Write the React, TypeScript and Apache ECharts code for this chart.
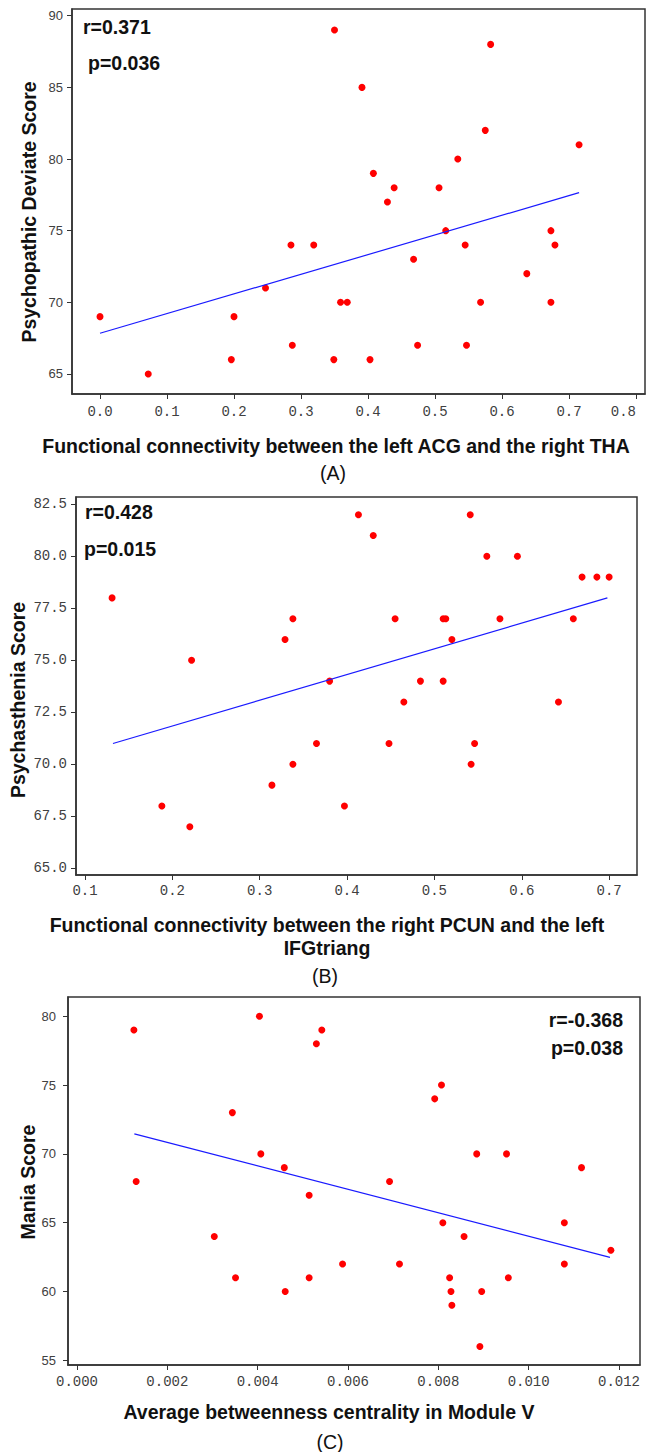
import React, { useEffect, useRef } from "react";
import * as echarts from "echarts";

// ---------- Panel A ----------
const xA = [0.0, 0.072, 0.196, 0.2, 0.247, 0.285, 0.287, 0.319, 0.349, 0.35, 0.359, 0.369, 0.391, 0.403, 0.408, 0.429, 0.439, 0.468, 0.474, 0.506, 0.516, 0.534, 0.545, 0.547, 0.568, 0.575, 0.583, 0.637, 0.673, 0.673, 0.679, 0.715];
const yA = [69, 65, 66, 69, 71, 74, 67, 74, 66, 89, 70, 70, 85, 66, 79, 77, 78, 73, 67, 78, 75, 80, 74, 67, 70, 82, 88, 72, 75, 70, 74, 81];
const fitAx = [0.0, 0.715];
const fitAy = [67.84, 77.65];
const ticksAx = [0, 0.1, 0.2, 0.3, 0.4, 0.5, 0.6, 0.7, 0.8];
const ticksAy = [65, 70, 75, 80, 85, 90];

// ---------- Panel B ----------
const xB = [0.131, 0.188, 0.22, 0.222, 0.314, 0.329, 0.338, 0.338, 0.365, 0.38, 0.397, 0.413, 0.43, 0.448, 0.455, 0.465, 0.484, 0.51, 0.513, 0.51, 0.52, 0.541, 0.542, 0.546, 0.56, 0.575, 0.595, 0.642, 0.659, 0.669, 0.686, 0.7];
const yB = [78, 68, 67, 75, 69, 76, 77, 70, 71, 74, 68, 82, 81, 71, 77, 73, 74, 77, 77, 74, 76, 82, 70, 71, 80, 77, 80, 73, 77, 79, 79, 79];
const fitBx = [0.132, 0.698];
const fitBy = [71.0, 78.0];
const ticksBx = [0.1, 0.2, 0.3, 0.4, 0.5, 0.6, 0.7];
const ticksBy = [65, 67.5, 70, 72.5, 75, 77.5, 80, 82.5];

// ---------- Panel C ----------
const xC = [0.00126, 0.00131, 0.00304, 0.00344, 0.00351, 0.00404, 0.00407, 0.00459, 0.00461, 0.00514, 0.00514, 0.0053, 0.00542, 0.00588, 0.00692, 0.00714, 0.00792, 0.00807, 0.0081, 0.00825, 0.00828, 0.0083, 0.00857, 0.00885, 0.00892, 0.00896, 0.00951, 0.00955, 0.01079, 0.01079, 0.01117, 0.01182];
const yC = [79, 68, 64, 73, 61, 80, 70, 69, 60, 67, 61, 78, 79, 62, 68, 62, 74, 75, 65, 61, 60, 59, 64, 70, 56, 60, 70, 61, 65, 62, 69, 63];
const fitCx = [0.00127, 0.0118];
const fitCy = [71.46, 62.48];
const ticksCx = [0, 0.002, 0.004, 0.006, 0.008, 0.01, 0.012];
const ticksCy = [55, 60, 65, 70, 75, 80];

const zip = (xs: number[], ys: number[]) => xs.map((x, i) => [x, ys[i]]);

const BOLD = 'bold 19.5px "Liberation Sans", Arial, sans-serif';
const NORMAL = '19.5px "Liberation Sans", Arial, sans-serif';

function xAxisCfg(gridIndex: number, min: number, max: number, ticks: number[], dec: number, margin: number, alignMax?: string) {
  return {
    type: "value",
    gridIndex,
    min,
    max,
    axisLine: { show: true, onZero: false, lineStyle: { color: "#333", width: 1.5 } },
    axisTick: { show: true, length: 5, customValues: ticks, lineStyle: { color: "#333", width: 1 } },
    axisLabel: {
      customValues: ticks,
      formatter: (v: number) => v.toFixed(dec),
      fontFamily: '"Liberation Mono", monospace',
      fontSize: 14,
      color: "#404040",
      margin,
      ...(alignMax ? { alignMaxLabel: alignMax } : {}),
    },
    splitLine: { show: false },
  };
}

function yAxisCfg(gridIndex: number, min: number, max: number, ticks: number[], dec: number, margin: number, mono: boolean) {
  return {
    type: "value",
    gridIndex,
    min,
    max,
    axisLine: { show: true, onZero: false, lineStyle: { color: "#333", width: 1.5 } },
    axisTick: { show: true, length: 5, customValues: ticks, lineStyle: { color: "#333", width: 1 } },
    axisLabel: {
      customValues: ticks,
      formatter: (v: number) => v.toFixed(dec),
      fontFamily: mono ? '"Liberation Mono", monospace' : '"Liberation Sans", Arial, sans-serif',
      fontSize: mono ? 14 : 13,
      color: "#404040",
      margin,
    },
    splitLine: { show: false },
  };
}

function txt(text: string, x: number, y: number, font: string, align: string, rotation = 0) {
  return {
    type: "text",
    x,
    y,
    rotation,
    style: {
      text,
      font,
      fill: "#111",
      align,
      verticalAlign: "middle",
      textAlign: align,
      textVerticalAlign: "middle",
    },
  };
}

function scatter(xi: number, data: number[][]) {
  return {
    type: "scatter",
    xAxisIndex: xi,
    yAxisIndex: xi,
    data,
    symbol: "circle",
    symbolSize: 7,
    itemStyle: { color: "#ff0000", opacity: 1 },
  };
}

function fit(xi: number, data: number[][]) {
  return {
    type: "line",
    xAxisIndex: xi,
    yAxisIndex: xi,
    data,
    showSymbol: false,
    symbol: "none",
    lineStyle: { color: "#1a1aff", width: 1.2 },
  };
}

export default function App() {
  const ref = useRef<HTMLDivElement>(null);

  useEffect(() => {
    if (!ref.current) return;
    const chart = echarts.init(ref.current, null, { renderer: "svg" });
    const gridBase = { show: true, borderColor: "#333", borderWidth: 1.5, backgroundColor: "#fff", containLabel: false, outerBoundsMode: "none" };
    chart.setOption({
      animation: false,
      backgroundColor: "#fff",
      grid: [
        { ...gridBase, left: 72, top: 9, width: 573, height: 385 },
        { ...gridBase, left: 76, top: 497, width: 561, height: 378 },
        { ...gridBase, left: 68, top: 997, width: 572, height: 368 },
      ],
      xAxis: [
        xAxisCfg(0, -0.0418, 0.8134, ticksAx, 1, 11, "right"),
        xAxisCfg(1, 0.0897, 0.7319, ticksBx, 1, 9),
        xAxisCfg(2, -0.000199, 0.012465, ticksCx, 3, 10),
      ],
      yAxis: [
        yAxisCfg(0, 63.6, 90.47, ticksAy, 0, 9, false),
        yAxisCfg(1, 64.68, 82.85, ticksBy, 1, 9, true),
        yAxisCfg(2, 54.66, 81.4, ticksCy, 0, 12, false),
      ],
      series: [
        fit(0, zip(fitAx, fitAy)),
        scatter(0, zip(xA, yA)),
        fit(1, zip(fitBx, fitBy)),
        scatter(1, zip(xB, yB)),
        fit(2, zip(fitCx, fitCy)),
        scatter(2, zip(xC, yC)),
      ],
      graphic: [
        // Panel A
        txt("r=0.371", 83, 27, BOLD, "left"),
        txt("p=0.036", 88, 63, BOLD, "left"),
        txt("Psychopathic Deviate Score", 29, 212, BOLD, "center", Math.PI / 2),
        txt("Functional connectivity between the left ACG and the right THA", 336, 446, BOLD, "center"),
        txt("(A)", 333, 473, NORMAL, "center"),
        // Panel B
        txt("r=0.428", 85, 512, BOLD, "left"),
        txt("p=0.015", 84, 549, BOLD, "left"),
        txt("Psychasthenia Score", 18, 700, BOLD, "center", Math.PI / 2),
        txt("Functional connectivity between the right PCUN and the left", 327, 925, BOLD, "center"),
        txt("IFGtriang", 327, 948, BOLD, "center"),
        txt("(B)", 325, 976, NORMAL, "center"),
        // Panel C
        txt("r=-0.368", 623, 1020, BOLD, "right"),
        txt("p=0.038", 623, 1048, BOLD, "right"),
        txt("Mania Score", 28, 1182, BOLD, "center", Math.PI / 2),
        txt("Average betweenness centrality in Module V", 329, 1412, BOLD, "center"),
        txt("(C)", 330, 1442, NORMAL, "center"),
      ],
    });
    return () => chart.dispose();
  }, []);

  return (
    <div
      ref={ref}
      style={{ position: "fixed", left: 0, top: 0, width: 647, height: 1452, background: "#fff" }}
    />
  );
}
